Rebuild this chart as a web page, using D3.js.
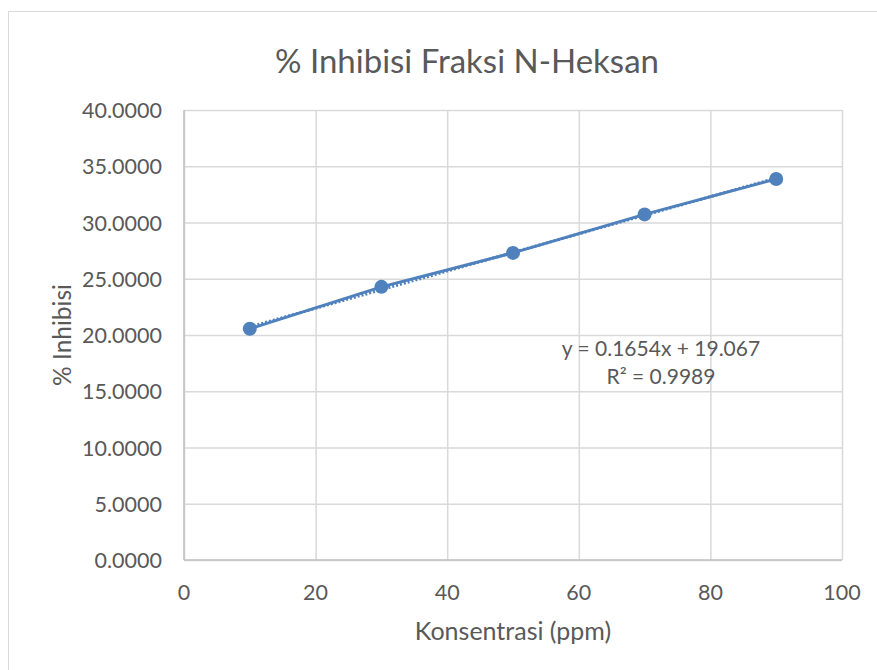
<!DOCTYPE html>
<html>
<head>
<meta charset="utf-8">
<script src="https://cdn.jsdelivr.net/npm/d3@7"></script>
<style>
  body { margin: 0; background: #fff; }
  text { font-family: Lato, "Open Sans", sans-serif; fill: #595959; }
</style>
</head>
<body>
<div id="chart"></div>
<script>
// data
const konsentrasi = [10, 30, 50, 70, 90];
const inhibisi = [20.55, 24.28, 27.30, 30.72, 33.87];
const xTicks = [0, 20, 40, 60, 80, 100];
const yTicks = [0, 5, 10, 15, 20, 25, 30, 35, 40];
const slope = 0.1654;
const intercept = 19.067;
const rSquared = 0.9989;

const width = 877, height = 670;
const margin = { left: 184, right: 35, top: 110, bottom: 110 };

const svg = d3.select('#chart').append('svg')
    .attr('width', width)
    .attr('height', height);

// chart border
svg.append('rect')
    .attr('x', 8.5).attr('y', 11.5)
    .attr('width', width).attr('height', height)
    .attr('fill', 'none')
    .attr('stroke', '#d9d9d9');

const x = d3.scaleLinear().domain([0, 100]).range([margin.left, width - margin.right]);
const y = d3.scaleLinear().domain([0, 40]).range([height - margin.bottom, margin.top]);

// gridlines
svg.append('g')
    .attr('transform', 'translate(0,' + y(0) + ')')
    .call(d3.axisBottom(x).tickValues(xTicks).tickSize(-(y(0) - y(40))).tickFormat(''))
    .call(g => g.select('.domain').remove())
    .call(g => g.selectAll('line').attr('stroke', '#d9d9d9').attr('stroke-width', 1.5));

svg.append('g')
    .attr('transform', 'translate(' + x(0) + ',0)')
    .call(d3.axisLeft(y).tickValues(yTicks).tickSize(-(x(100) - x(0))).tickFormat(''))
    .call(g => g.select('.domain').remove())
    .call(g => g.selectAll('line').attr('stroke', '#d9d9d9').attr('stroke-width', 1.5));

// axis lines
svg.append('line')
    .attr('x1', x(0)).attr('x2', x(100))
    .attr('y1', y(0)).attr('y2', y(0))
    .attr('stroke', '#bfbfbf').attr('stroke-width', 1.5);
svg.append('line')
    .attr('x1', x(0)).attr('x2', x(0))
    .attr('y1', y(0)).attr('y2', y(40))
    .attr('stroke', '#bfbfbf').attr('stroke-width', 1.5);

// tick labels
svg.append('g')
    .selectAll('text')
    .data(xTicks)
    .enter()
    .append('text')
    .attr('x', d => x(d))
    .attr('y', y(0) + 40)
    .attr('text-anchor', 'middle')
    .style('font-size', '21.5px')
    .text(d => d);

svg.append('g')
    .selectAll('text')
    .data(yTicks)
    .enter()
    .append('text')
    .attr('x', x(0) - 22)
    .attr('y', d => y(d) + 8)
    .attr('text-anchor', 'end')
    .style('font-size', '21.5px')
    .text(d => d3.format('.4f')(d));

// titles
svg.append('text')
    .attr('x', 467).attr('y', 73)
    .attr('text-anchor', 'middle')
    .style('font-size', '33px')
    .text('% Inhibisi Fraksi N-Heksan');

svg.append('text')
    .attr('x', 513).attr('y', 640)
    .attr('text-anchor', 'middle')
    .style('font-size', '25px')
    .text('Konsentrasi (ppm)');

svg.append('text')
    .attr('transform', 'translate(71,' + ((y(0) + y(40)) / 2) + ') rotate(-90)')
    .attr('text-anchor', 'middle')
    .style('font-size', '24.5px')
    .text('% Inhibisi');

// trendline (dotted)
const trendX = d3.extent(konsentrasi);
svg.append('line')
    .attr('x1', x(trendX[0])).attr('y1', y(intercept + slope * trendX[0]))
    .attr('x2', x(trendX[1])).attr('y2', y(intercept + slope * trendX[1]))
    .attr('stroke', '#4f81bd')
    .attr('stroke-width', 3)
    .attr('stroke-dasharray', '2,2');

// series line
const line = d3.line()
    .x((d, i) => x(konsentrasi[i]))
    .y(d => y(d));

svg.append('path')
    .datum(inhibisi)
    .attr('d', line)
    .attr('fill', 'none')
    .attr('stroke', '#4f81bd')
    .attr('stroke-width', 3);

svg.selectAll('circle')
    .data(inhibisi)
    .enter()
    .append('circle')
    .attr('cx', (d, i) => x(konsentrasi[i]))
    .attr('cy', d => y(d))
    .attr('r', 7)
    .attr('fill', '#4f81bd');

// trendline label
const eq = svg.append('g');
eq.append('text')
    .attr('x', 661).attr('y', 356)
    .attr('text-anchor', 'middle')
    .style('font-size', '21px')
    .text('y = ' + slope + 'x + ' + intercept);
eq.append('text')
    .attr('x', 661).attr('y', 384)
    .attr('text-anchor', 'middle')
    .style('font-size', '21px')
    .text('R² = ' + rSquared);
</script>
</body>
</html>
